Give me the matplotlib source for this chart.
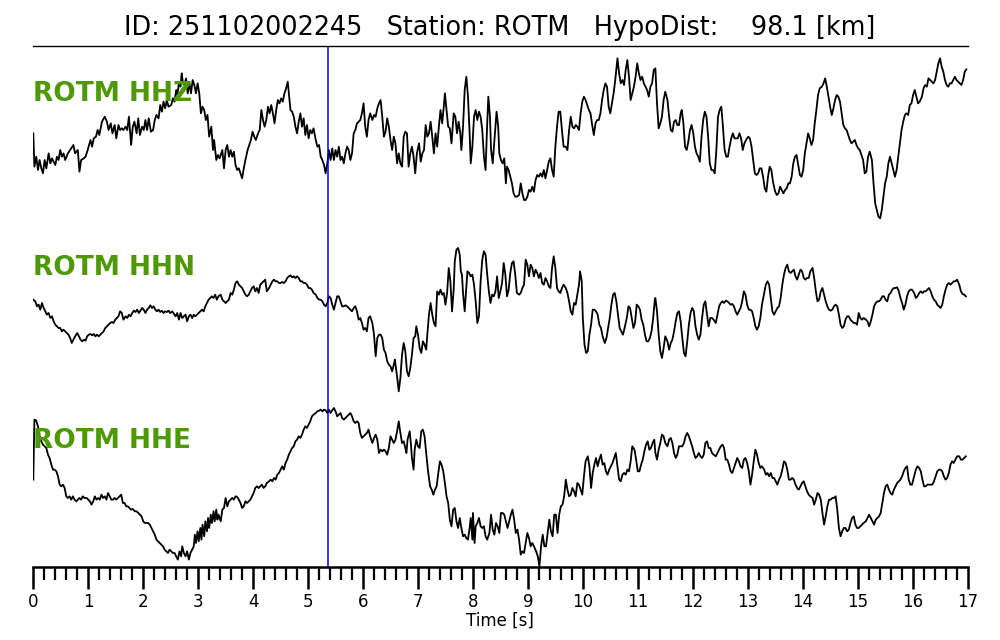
import matplotlib
matplotlib.use("Agg")
import matplotlib.pyplot as plt
from matplotlib.ticker import MultipleLocator
import numpy as np

# ---------------- data ----------------
event_id = "251102002245"
station = "ROTM"
hypo_dist_km = 98.1
channels = ["HHZ", "HHN", "HHE"]
pick_time = 5.36          # P pick [s]
t_max = 17                # record length [s]

# (time [s], amplitude [counts, relative])
hhz = [(0.00,20),(0.02,-80),(0.055,-50),(0.085,-90),(0.115,-60),(0.146,-85),(0.176,-100),(0.206,-60),(0.237,-85),(0.279,-40),(0.31,-70),(0.34,-55),(0.37,-65),(0.40,-75),(0.43,-50),(0.46,-60),(0.49,-30),(0.52,-50),(0.55,-40),(0.58,-60),(0.63,-40),(0.67,-30),(0.73,-15),(0.76,-40),(0.81,-30),(0.84,-95),(0.87,-60),(0.92,-55),(0.95,-50),(0.99,-30),(1.04,0),(1.07,-20),(1.10,5),(1.14,10),(1.17,30),(1.20,15),(1.25,55),(1.30,70),(1.34,55),(1.37,30),(1.41,50),(1.44,20),(1.48,45),(1.51,5),(1.55,45),(1.58,30),(1.61,35),(1.64,30),(1.68,40),(1.71,30),(1.74,70),(1.78,-15),(1.81,40),(1.84,55),(1.88,20),(1.91,65),(1.94,15),(1.98,40),(2.01,30),(2.04,60),(2.07,30),(2.10,65),(2.14,25),(2.18,30),(2.21,60),(2.24,75),(2.28,65),(2.31,105),(2.34,85),(2.37,115),(2.40,95),(2.43,120),(2.46,100),(2.51,105),(2.54,125),(2.57,115),(2.60,150),(2.62,135),(2.65,170),(2.68,160),(2.70,200),(2.72,175),(2.75,165),(2.78,185),(2.81,140),(2.84,170),(2.87,140),(2.90,180),(2.93,165),(2.96,140),(2.99,170),(3.02,140),(3.05,80),(3.08,100),(3.11,90),(3.14,60),(3.17,75),(3.20,10),(3.24,40),(3.27,-30),(3.29,0),(3.33,-60),(3.36,-45),(3.39,-55),(3.44,-30),(3.47,-85),(3.50,-30),(3.53,-15),(3.56,-50),(3.59,-30),(3.62,-50),(3.65,-35),(3.68,-75),(3.71,-90),(3.74,-85),(3.77,-100),(3.80,-115),(3.83,-85),(3.86,-60),(3.90,-30),(3.93,-15),(3.96,0),(3.99,25),(4.02,10),(4.05,0),(4.09,20),(4.12,30),(4.15,90),(4.18,60),(4.21,40),(4.24,60),(4.27,100),(4.30,80),(4.33,105),(4.36,80),(4.39,50),(4.42,90),(4.45,120),(4.48,110),(4.51,125),(4.54,115),(4.57,140),(4.60,155),(4.63,175),(4.65,140),(4.68,90),(4.71,85),(4.74,70),(4.77,40),(4.80,20),(4.83,55),(4.86,80),(4.89,40),(4.92,65),(4.95,15),(4.98,45),(5.01,5),(5.04,30),(5.07,20),(5.10,35),(5.14,0),(5.17,-20),(5.20,-15),(5.23,-50),(5.26,-60),(5.29,-75),(5.32,-100),(5.35,-70),(5.38,-30),(5.41,-60),(5.44,-25),(5.47,-60),(5.50,-30),(5.53,-50),(5.56,-20),(5.59,-60),(5.62,-50),(5.65,-70),(5.68,-40),
       (5.71,-20),(5.74,-30),(5.77,-60),(5.80,-40),(5.83,20),(5.86,30),(5.89,50),(5.92,55),(5.95,60),(5.98,80),(6.01,110),(6.04,40),(6.07,10),(6.10,60),(6.13,80),(6.17,60),(6.20,75),(6.23,70),(6.26,95),(6.29,110),(6.32,120),(6.35,70),(6.38,10),(6.41,25),(6.44,65),(6.47,40),(6.50,0),(6.53,-30),(6.56,10),(6.59,-10),(6.62,-70),(6.65,-40),(6.68,-70),(6.71,-80),(6.74,10),(6.77,25),(6.80,20),(6.83,-80),(6.86,-40),(6.89,-20),(6.92,-50),(6.95,-100),(6.98,-40),(7.02,-10),(7.05,-65),(7.08,-40),(7.11,-30),(7.14,45),(7.17,10),(7.20,20),(7.23,55),(7.26,10),(7.29,-40),(7.32,20),(7.35,-20),(7.38,40),(7.41,90),(7.44,50),(7.47,100),(7.49,140),(7.52,90),(7.55,40),(7.58,35),(7.61,-10),(7.65,80),(7.68,70),(7.71,20),(7.74,55),(7.77,20),(7.79,-30),(7.82,40),(7.85,150),(7.88,190),(7.91,130),(7.94,20),(7.96,-70),(7.99,-20),(8.02,70),(8.05,90),(8.08,60),(8.11,85),(8.14,70),(8.17,30),(8.20,-50),(8.23,-90),(8.26,50),(8.28,130),(8.31,70),(8.33,-30),(8.36,-70),(8.40,20),(8.43,85),(8.46,40),(8.48,-40),(8.51,-60),(8.54,-70),(8.57,-55),(8.60,-130),(8.62,-80),(8.65,-90),(8.68,-110),(8.71,-130),(8.74,-160),(8.77,-170),(8.80,-170),(8.84,-165),(8.87,-130),(8.90,-160),(8.93,-180),(8.96,-180),(8.99,-170),(9.02,-150),(9.05,-155),(9.08,-140),(9.11,-155),(9.14,-120),(9.17,-105),(9.20,-110),(9.23,-100),(9.26,-110),(9.29,-90),(9.32,-115),(9.35,-90),(9.38,-65),(9.41,-55),(9.44,-90),(9.47,-110),(9.50,-20),(9.53,40),(9.56,85),(9.59,85),(9.62,30),(9.65,-20),(9.69,-20),(9.72,-30),(9.75,30),(9.78,70),(9.81,40),(9.84,35),(9.87,45),(9.90,40),(9.93,30),(9.96,80),(9.99,115),(10.02,130),(10.05,120),(10.08,105),(10.11,90),(10.14,80),(10.17,45),(10.20,15),(10.23,50),(10.26,60),(10.29,60),(10.32,80),(10.35,120),(10.38,150),(10.41,170),(10.44,160),(10.47,100),(10.50,80),(10.53,110),(10.56,140),(10.59,180),(10.63,245),(10.66,200),(10.69,170),(10.72,180),(10.75,165),(10.78,210),(10.81,240),(10.84,190),(10.87,120),(10.90,140),(10.93,160),(10.96,190),(10.99,230),(11.02,200),(11.05,180),(11.08,190),(11.11,170),(11.14,160),(11.17,150),(11.20,130),(11.23,160),(11.26,170),(11.29,210),(11.32,215),
       (11.35,110),(11.38,35),(11.41,50),(11.44,70),(11.47,120),(11.50,145),(11.54,120),(11.57,70),(11.60,30),(11.63,25),(11.66,55),(11.69,60),(11.72,45),(11.75,45),(11.78,80),(11.80,90),(11.83,50),(11.86,-20),(11.89,-30),(11.92,-5),(11.95,30),(11.98,45),(12.01,20),(12.04,-20),(12.07,-40),(12.10,-50),(12.13,-65),(12.16,10),(12.19,60),(12.22,85),(12.25,70),(12.28,10),(12.31,-70),(12.34,-90),(12.37,-90),(12.40,-100),(12.43,-30),(12.46,70),(12.49,90),(12.52,100),(12.55,40),(12.58,-30),(12.61,-50),(12.64,-50),(12.67,-20),(12.70,5),(12.73,20),(12.76,5),(12.79,5),(12.82,5),(12.85,20),(12.88,5),(12.91,-30),(12.94,-10),(12.97,0),(13.01,10),(13.04,5),(13.07,-20),(13.10,-60),(13.13,-100),(13.16,-105),(13.19,-100),(13.22,-85),(13.25,-85),(13.28,-110),(13.31,-145),(13.34,-155),(13.37,-110),(13.40,-80),(13.43,-90),(13.46,-125),(13.50,-155),(13.53,-165),(13.56,-160),(13.59,-140),(13.62,-150),(13.65,-160),(13.68,-150),(13.71,-145),(13.74,-130),(13.77,-130),(13.80,-110),(13.83,-70),(13.86,-50),(13.89,-45),(13.92,-75),(13.95,-105),(13.98,-110),(14.01,-90),(14.04,-40),(14.07,-10),(14.10,20),(14.13,5),(14.16,-15),(14.19,0),(14.22,50),(14.25,90),(14.28,135),(14.31,155),(14.35,160),(14.38,170),(14.41,185),(14.44,160),(14.47,130),(14.50,100),(14.53,75),(14.56,95),(14.59,120),(14.62,135),(14.65,130),(14.68,115),(14.71,80),(14.74,45),(14.77,35),(14.80,30),(14.83,15),(14.86,0),(14.89,-10),(14.92,-5),(14.95,0),(14.98,-15),(15.01,-25),(15.04,-30),(15.07,-45),(15.10,-60),(15.13,-100),(15.16,-95),(15.19,-50),(15.22,-35),(15.26,-60),(15.29,-130),(15.32,-190),(15.35,-210),(15.38,-230),(15.41,-235),(15.44,-210),(15.47,-170),(15.50,-130),(15.53,-110),(15.56,-70),(15.59,-50),(15.62,-70),(15.65,-90),(15.68,-110),(15.71,-90),(15.74,-50),(15.77,-10),(15.80,30),(15.83,55),(15.86,75),(15.89,80),(15.92,75),(15.95,105),(15.98,110),(16.01,135),(16.04,150),(16.07,130),(16.10,110),(16.13,115),(16.17,130),(16.20,155),(16.23,165),(16.26,160),(16.29,185),(16.32,180),(16.35,175),(16.38,170),(16.41,180),(16.44,205),(16.47,230),(16.50,245),(16.53,220),(16.56,205),(16.59,180),(16.62,165),(16.65,160),(16.68,170),(16.71,170),(16.74,180),(16.77,190),(16.80,180),(16.83,175),(16.86,170),(16.89,165),(16.92,180),(16.95,205),(16.98,212)]

hhn = [(0.00,41),(0.036,36),(0.067,21),(0.097,26),(0.127,11),(0.158,31),(0.188,16),(0.219,6),(0.249,-4),(0.279,1),(0.31,-14),(0.34,-9),(0.37,-24),(0.40,-34),(0.43,-39),(0.46,-44),(0.49,-44),(0.52,-54),(0.55,-49),(0.58,-54),(0.61,-59),(0.64,-64),(0.67,-74),(0.70,-89),(0.73,-79),(0.76,-69),(0.80,-59),(0.83,-69),(0.86,-79),(0.89,-84),(0.92,-79),(0.95,-82),(0.98,-69),(1.01,-64),(1.04,-62),(1.07,-66),(1.10,-62),(1.13,-69),(1.16,-64),(1.19,-69),(1.22,-64),(1.25,-59),(1.28,-54),(1.31,-44),(1.34,-39),(1.37,-34),(1.40,-29),(1.43,-26),(1.46,-29),(1.49,-19),(1.52,-14),(1.55,-9),(1.58,6),(1.61,1),(1.64,-19),(1.68,-9),(1.71,-14),(1.74,-4),(1.77,-9),(1.80,1),(1.83,8),(1.86,4),(1.89,11),(1.92,1),(1.95,8),(1.98,16),(2.01,11),(2.04,1),(2.07,11),(2.10,16),(2.13,24),(2.16,16),(2.19,21),(2.22,11),(2.25,6),(2.28,11),(2.31,4),(2.34,8),(2.37,1),(2.40,6),(2.43,4),(2.46,8),(2.49,1),(2.53,6),(2.56,-2),(2.59,-9),(2.62,1),(2.65,-19),(2.68,1),(2.71,-14),(2.74,-9),(2.77,-4),(2.80,-24),(2.83,-9),(2.86,-4),(2.89,-14),(2.92,-4),(2.95,-9),(2.98,-4),(3.01,1),(3.04,6),(3.07,11),(3.10,6),(3.13,21),(3.16,31),(3.19,41),(3.22,46),(3.25,51),(3.28,46),(3.31,56),(3.34,41),(3.37,51),(3.41,56),(3.44,41),(3.47,36),(3.50,31),(3.53,36),(3.56,41),(3.59,61),(3.62,56),(3.65,71),(3.68,91),(3.71,96),(3.74,86),(3.77,81),(3.80,76),(3.83,66),(3.86,56),(3.89,51),(3.92,56),(3.95,66),(3.98,76),(4.01,81),(4.04,66),(4.07,76),(4.10,61),(4.13,86),(4.16,91),(4.19,96),(4.22,101),(4.25,66),(4.29,76),(4.32,86),(4.35,96),(4.38,101),(4.41,96),(4.44,96),(4.47,91),(4.50,91),(4.53,94),(4.56,91),(4.59,96),(4.62,106),(4.65,111),(4.68,114),(4.71,108),(4.74,111),(4.77,106),(4.80,111),(4.83,106),(4.86,96),(4.89,96),(4.92,91),(4.95,91),(4.98,86),(5.01,76),(5.04,76),(5.07,71),(5.10,61),(5.14,56),(5.17,46),(5.20,41),(5.23,41),(5.26,36),(5.29,26),(5.32,21),(5.35,31),(5.38,51),(5.41,46),(5.44,26),(5.47,11),(5.50,31),(5.53,51),(5.56,51),(5.59,36),(5.62,21),(5.65,21),(5.68,24),
       (5.71,21),(5.74,16),(5.77,11),(5.80,6),(5.83,16),(5.86,21),(5.89,6),(5.92,-19),(5.95,-14),(5.98,-29),(6.01,-49),(6.04,-44),(6.07,-54),(6.10,-14),(6.13,-9),(6.17,-29),(6.20,-64),(6.23,-129),(6.26,-74),(6.29,-64),(6.32,-64),(6.35,-74),(6.38,-109),(6.41,-119),(6.44,-144),(6.47,-154),(6.50,-159),(6.53,-174),(6.56,-154),(6.58,-139),(6.60,-164),(6.63,-204),(6.65,-234),(6.68,-194),(6.71,-124),(6.74,-89),(6.77,-114),(6.80,-174),(6.83,-189),(6.86,-164),(6.89,-124),(6.92,-74),(6.95,-69),(6.97,-39),(7.00,-64),(7.03,-104),(7.06,-119),(7.09,-84),(7.12,-94),(7.15,-109),(7.17,-64),(7.20,-4),(7.23,31),(7.26,-4),(7.29,-29),(7.32,-39),(7.35,66),(7.38,56),(7.41,71),(7.44,56),(7.47,61),(7.50,26),(7.53,61),(7.56,136),(7.59,96),(7.62,6),(7.65,71),(7.67,156),(7.70,191),(7.73,196),(7.76,176),(7.78,126),(7.80,116),(7.82,61),(7.85,6),(7.88,76),(7.90,126),(7.93,121),(7.96,111),(7.99,116),(8.02,86),(8.05,36),(8.08,-29),(8.11,-9),(8.14,96),(8.17,161),(8.20,186),(8.23,176),(8.26,116),(8.29,66),(8.32,31),(8.35,56),(8.38,51),(8.41,66),(8.44,111),(8.47,46),(8.50,66),(8.53,91),(8.56,151),(8.59,116),(8.62,51),(8.65,71),(8.68,121),(8.71,151),(8.74,156),(8.77,116),(8.80,61),(8.84,56),(8.87,61),(8.90,76),(8.93,86),(8.96,161),(8.99,146),(9.02,111),(9.05,146),(9.08,136),(9.11,111),(9.14,131),(9.17,121),(9.20,106),(9.23,121),(9.26,91),(9.29,86),(9.32,106),(9.35,96),(9.38,81),(9.41,76),(9.44,136),(9.47,171),(9.50,136),(9.53,76),(9.56,66),(9.59,61),(9.62,76),(9.65,86),(9.69,76),(9.72,61),(9.75,36),(9.78,6),(9.81,-4),(9.84,31),(9.87,26),(9.90,56),(9.93,86),(9.95,126),(9.98,96),(10.00,-14),(10.03,-94),(10.06,-119),(10.09,-114),(10.12,-64),(10.15,-34),(10.18,11),(10.21,11),(10.24,6),(10.27,-4),(10.30,-34),(10.33,-44),(10.36,-69),(10.40,-89),(10.43,-74),(10.46,-44),(10.49,-14),(10.52,26),(10.55,56),(10.58,61),(10.61,36),(10.64,-4),(10.67,-44),(10.70,-54),(10.73,-64),(10.76,-44),(10.80,-14),(10.83,21),(10.86,16),(10.89,-14),(10.92,-44),(10.95,-29),(10.98,26),(11.01,21),(11.04,11),(11.07,-19),(11.10,-34),(11.13,-64),(11.16,-84),(11.19,-84),(11.22,-74),(11.25,-54),(11.28,-14),(11.31,41),(11.32,46),
       (11.35,6),(11.38,-64),(11.41,-114),(11.44,-134),(11.47,-104),(11.50,-69),(11.54,-84),(11.57,-109),(11.60,-89),(11.63,-79),(11.66,-54),(11.69,-24),(11.72,1),(11.75,6),(11.78,-24),(11.81,-74),(11.84,-119),(11.87,-129),(11.90,-84),(11.93,-34),(11.96,1),(11.99,16),(12.02,6),(12.05,-39),(12.08,-64),(12.11,-79),(12.14,-64),(12.17,-14),(12.20,26),(12.23,36),(12.26,-4),(12.29,-39),(12.32,-14),(12.35,-14),(12.38,-19),(12.42,-29),(12.45,-4),(12.48,21),(12.51,31),(12.54,36),(12.57,31),(12.60,38),(12.63,36),(12.66,31),(12.69,26),(12.72,28),(12.75,21),(12.78,6),(12.81,-4),(12.84,6),(12.87,16),(12.90,36),(12.93,66),(12.96,56),(12.99,26),(13.02,11),(13.05,11),(13.08,6),(13.11,-14),(13.14,-39),(13.17,-49),(13.20,-39),(13.23,-14),(13.26,26),(13.30,61),(13.33,86),(13.36,96),(13.39,86),(13.42,46),(13.45,6),(13.48,-4),(13.51,6),(13.54,16),(13.57,21),(13.60,46),(13.63,86),(13.66,116),(13.69,136),(13.72,146),(13.75,126),(13.78,121),(13.81,126),(13.84,131),(13.87,111),(13.90,101),(13.93,116),(13.96,131),(13.99,126),(14.02,106),(14.05,101),(14.08,106),(14.11,106),(14.14,126),(14.18,136),(14.21,106),(14.24,66),(14.27,36),(14.30,41),(14.33,66),(14.36,76),(14.39,56),(14.42,36),(14.45,21),(14.48,11),(14.51,8),(14.54,11),(14.57,21),(14.60,26),(14.63,21),(14.66,-4),(14.69,-34),(14.72,-44),(14.75,-39),(14.78,-19),(14.81,-9),(14.84,-9),(14.87,-19),(14.90,-24),(14.93,-29),(14.96,-29),(14.99,-34),(15.02,1),(15.05,-14),(15.08,-19),(15.11,-14),(15.15,-19),(15.18,-24),(15.21,-39),(15.24,-24),(15.27,-4),(15.30,21),(15.33,31),(15.36,36),(15.39,36),(15.42,41),(15.45,51),(15.48,51),(15.51,41),(15.54,36),(15.57,56),(15.60,61),(15.63,71),(15.66,76),(15.69,76),(15.72,78),(15.75,66),(15.78,46),(15.81,31),(15.84,11),(15.87,26),(15.90,51),(15.93,66),(15.96,71),(15.99,71),(16.03,61),(16.06,46),(16.09,51),(16.12,61),(16.15,66),(16.18,61),(16.21,66),(16.24,66),(16.27,71),(16.30,76),(16.33,66),(16.36,51),(16.39,41),(16.42,36),(16.45,26),(16.48,21),(16.51,16),(16.54,26),(16.57,51),(16.60,71),(16.63,86),(16.66,91),(16.69,86),(16.72,91),(16.75,96),(16.78,96),(16.81,101),(16.85,86),(16.88,66),(16.91,58),(16.94,56),(16.97,51)]

hhe = [(0.00,21),(0.02,201),(0.05,199),(0.085,181),(0.115,151),(0.146,136),(0.176,126),(0.206,121),(0.237,116),(0.267,96),(0.297,86),(0.328,66),(0.358,51),(0.388,51),(0.419,46),(0.449,31),(0.48,6),(0.51,1),(0.54,6),(0.57,-4),(0.60,-29),(0.63,-34),(0.66,-29),(0.69,-39),(0.72,-29),(0.75,-39),(0.78,-44),(0.81,-39),(0.84,-34),(0.87,-39),(0.90,-29),(0.93,-34),(0.97,-34),(1.00,-39),(1.03,-44),(1.06,-54),(1.09,-44),(1.12,-29),(1.15,-39),(1.18,-34),(1.21,-39),(1.24,-24),(1.27,-34),(1.30,-29),(1.33,-39),(1.36,-19),(1.39,-29),(1.42,-39),(1.45,-39),(1.48,-34),(1.51,-39),(1.54,-34),(1.57,-29),(1.60,-24),(1.63,-49),(1.66,-49),(1.69,-59),(1.72,-59),(1.75,-64),(1.78,-69),(1.81,-67),(1.85,-74),(1.88,-74),(1.91,-79),(1.94,-84),(1.97,-89),(2.00,-104),(2.03,-109),(2.06,-109),(2.09,-109),(2.12,-114),(2.15,-124),(2.18,-134),(2.21,-144),(2.24,-159),(2.27,-164),(2.30,-169),(2.33,-174),(2.36,-179),(2.39,-189),(2.42,-194),(2.45,-199),(2.48,-189),(2.51,-194),(2.54,-199),(2.57,-199),(2.60,-209),(2.63,-219),(2.66,-194),(2.69,-209),(2.71,-179),(2.74,-199),(2.77,-209),(2.80,-194),(2.83,-219),(2.86,-199),(2.89,-189),(2.92,-179),(2.94,-144),(2.96,-169),(2.99,-134),(3.01,-164),(3.04,-124),(3.06,-159),(3.08,-114),(3.11,-149),(3.13,-104),(3.16,-134),(3.18,-94),(3.20,-124),(3.23,-84),(3.25,-109),(3.28,-74),(3.30,-104),(3.33,-69),(3.35,-99),(3.37,-84),(3.41,-104),(3.44,-69),(3.47,-64),(3.50,-34),(3.53,-59),(3.56,-44),(3.59,-39),(3.62,-34),(3.65,-39),(3.68,-29),(3.71,-31),(3.74,-39),(3.77,-49),(3.80,-64),(3.83,-59),(3.86,-44),(3.89,-49),(3.92,-44),(3.95,-39),(3.98,-29),(4.01,-19),(4.04,-4),(4.07,1),(4.10,-4),(4.13,1),(4.16,6),(4.19,-4),(4.22,1),(4.25,11),(4.29,16),(4.32,21),(4.35,16),(4.38,26),(4.41,21),(4.44,36),(4.47,41),(4.50,51),(4.53,61),(4.56,51),(4.59,71),(4.62,81),(4.65,96),(4.68,106),(4.71,116),(4.74,121),(4.77,136),(4.80,141),(4.83,151),(4.86,146),(4.89,156),(4.92,171),(4.95,181),(4.98,176),(5.01,186),(5.04,196),(5.07,211),(5.10,216),(5.14,221),(5.17,226),(5.20,228),(5.23,231),(5.26,226),(5.29,231),(5.32,229),(5.35,221),(5.38,231),(5.41,221),(5.44,229),(5.47,236),(5.50,226),(5.53,211),(5.56,216),(5.59,221),(5.62,206),(5.65,201),(5.68,206),
       (5.71,211),(5.74,216),(5.77,221),(5.80,211),(5.83,196),(5.86,191),(5.89,196),(5.92,191),(5.95,161),(5.98,146),(6.01,151),(6.04,156),(6.07,161),(6.10,171),(6.13,151),(6.17,131),(6.20,146),(6.23,156),(6.26,141),(6.29,101),(6.32,111),(6.35,106),(6.38,111),(6.41,106),(6.44,96),(6.47,116),(6.50,151),(6.53,141),(6.56,131),(6.59,141),(6.62,166),(6.65,196),(6.68,161),(6.71,131),(6.74,136),(6.77,116),(6.79,101),(6.81,141),(6.85,166),(6.87,131),(6.89,86),(6.92,51),(6.94,111),(6.97,141),(7.00,121),(7.03,116),(7.06,166),(7.09,171),(7.12,151),(7.15,101),(7.18,51),(7.22,1),(7.25,-9),(7.28,-24),(7.31,-9),(7.34,1),(7.37,41),(7.40,76),(7.43,66),(7.46,46),(7.49,11),(7.52,-29),(7.55,-49),(7.58,-99),(7.61,-119),(7.64,-69),(7.67,-64),(7.70,-104),(7.73,-124),(7.76,-94),(7.79,-124),(7.82,-149),(7.85,-144),(7.88,-154),(7.91,-159),(7.94,-124),(7.96,-94),(7.99,-159),(8.00,-79),(8.03,-169),(8.05,-119),(8.08,-109),(8.11,-94),(8.14,-119),(8.17,-124),(8.20,-119),(8.23,-149),(8.26,-159),(8.30,-139),(8.33,-84),(8.36,-129),(8.39,-144),(8.42,-109),(8.45,-119),(8.48,-139),(8.51,-79),(8.54,-79),(8.57,-84),(8.60,-104),(8.63,-124),(8.66,-104),(8.69,-84),(8.72,-69),(8.75,-99),(8.78,-139),(8.81,-129),(8.84,-159),(8.87,-204),(8.90,-194),(8.93,-199),(8.96,-169),(8.99,-139),(9.02,-154),(9.05,-179),(9.08,-169),(9.11,-179),(9.15,-194),(9.18,-209),(9.21,-239),(9.24,-179),(9.27,-144),(9.30,-179),(9.33,-179),(9.36,-139),(9.39,-99),(9.42,-134),(9.45,-149),(9.48,-84),(9.51,-84),(9.54,-139),(9.57,-84),(9.60,-59),(9.63,-54),(9.66,-29),(9.69,21),(9.72,-9),(9.75,-29),(9.78,-24),(9.81,-4),(9.84,-14),(9.87,-29),(9.90,11),(9.93,6),(9.96,-9),(9.99,-24),(10.02,31),(10.05,76),(10.09,91),(10.12,61),(10.15,-4),(10.18,41),(10.21,66),(10.24,86),(10.27,61),(10.30,81),(10.33,96),(10.36,66),(10.39,71),(10.42,46),(10.45,36),(10.48,51),(10.51,61),(10.54,71),(10.57,86),(10.60,101),(10.63,61),(10.66,21),(10.69,16),(10.72,36),(10.75,41),(10.78,36),(10.81,51),(10.84,46),(10.87,76),(10.90,121),(10.94,111),(10.97,81),(11.00,46),(11.03,46),(11.06,66),(11.09,81),(11.12,106),(11.15,126),(11.18,136),(11.21,111),(11.24,116),(11.27,131),(11.30,141),(11.32,101),
       (11.35,81),(11.38,111),(11.41,131),(11.44,156),(11.47,151),(11.50,131),(11.54,121),(11.57,141),(11.60,146),(11.63,131),(11.66,101),(11.69,86),(11.72,96),(11.75,121),(11.78,121),(11.81,121),(11.84,131),(11.87,151),(11.90,161),(11.93,151),(11.96,136),(11.99,121),(12.02,101),(12.05,86),(12.08,91),(12.11,101),(12.14,91),(12.17,86),(12.20,96),(12.23,131),(12.26,136),(12.29,116),(12.32,116),(12.35,101),(12.38,96),(12.42,91),(12.45,101),(12.48,111),(12.51,121),(12.54,126),(12.57,116),(12.60,81),(12.63,81),(12.66,66),(12.69,46),(12.72,41),(12.75,56),(12.78,71),(12.81,86),(12.84,76),(12.87,61),(12.90,56),(12.93,81),(12.96,86),(12.99,71),(13.02,46),(13.05,6),(13.08,36),(13.11,76),(13.14,111),(13.17,96),(13.20,71),(13.23,56),(13.26,61),(13.30,51),(13.33,36),(13.36,41),(13.39,31),(13.42,41),(13.45,26),(13.48,26),(13.51,16),(13.54,6),(13.57,21),(13.60,31),(13.63,51),(13.66,76),(13.69,71),(13.72,51),(13.75,21),(13.78,21),(13.81,26),(13.84,21),(13.87,6),(13.90,-4),(13.93,-9),(13.96,1),(13.99,11),(14.02,16),(14.05,1),(14.08,-14),(14.11,-24),(14.14,-29),(14.18,-34),(14.21,-54),(14.24,-39),(14.27,-19),(14.30,-24),(14.33,-39),(14.36,-79),(14.39,-114),(14.42,-89),(14.45,-59),(14.48,-39),(14.51,-39),(14.54,-34),(14.57,-34),(14.60,-29),(14.63,-69),(14.66,-124),(14.69,-149),(14.72,-134),(14.75,-124),(14.78,-124),(14.81,-134),(14.84,-129),(14.87,-109),(14.90,-94),(14.93,-89),(14.96,-114),(14.99,-124),(15.02,-124),(15.05,-119),(15.08,-114),(15.11,-109),(15.15,-104),(15.18,-94),(15.21,-84),(15.24,-94),(15.27,-104),(15.30,-114),(15.33,-99),(15.36,-94),(15.39,-89),(15.42,-79),(15.45,-49),(15.48,-19),(15.51,1),(15.54,6),(15.57,-9),(15.60,-19),(15.63,-24),(15.66,-9),(15.69,1),(15.72,11),(15.75,16),(15.78,21),(15.81,31),(15.84,46),(15.87,56),(15.90,61),(15.93,21),(15.96,6),(15.99,6),(16.03,31),(16.06,51),(16.09,61),(16.12,56),(16.15,46),(16.18,21),(16.21,1),(16.24,1),(16.27,6),(16.30,6),(16.33,6),(16.36,6),(16.39,16),(16.42,31),(16.45,46),(16.48,51),(16.51,51),(16.54,46),(16.57,31),(16.60,21),(16.63,26),(16.66,41),(16.69,66),(16.72,76),(16.75,71),(16.78,81),(16.81,91),(16.85,91),(16.88,81),(16.91,81),(16.94,86),(16.97,91)]

traces = [hhz, hhn, hhe]

# ---------------- figure ----------------
fig = plt.figure(figsize=(10, 6.4), dpi=100)
ax = fig.add_axes([0.0333, 0.1141, 0.9342, 0.8140])

spacing = 520
label_color = "#4e9a06"
for k, (ch, tr) in enumerate(zip(channels, traces)):
    arr = np.array(tr, dtype=float)
    off = -k * spacing
    ax.plot(arr[:, 0], arr[:, 1] + off, color="black", lw=1.3)
    ax.text(0.0, off + 116, f"{station} {ch}", color=label_color,
            fontsize=19, fontweight="bold", ha="left", va="baseline")

ax.axvline(pick_time, color="blue", lw=1.1)

ax.set_xlim(0, t_max)
ax.set_ylim(-1281, 282)

for s in ("left", "right"):
    ax.spines[s].set_visible(False)
ax.spines["top"].set_linewidth(1.0)
ax.spines["bottom"].set_linewidth(1.8)

ax.set_yticks([])
ax.xaxis.set_major_locator(MultipleLocator(1))
ax.xaxis.set_minor_locator(MultipleLocator(0.2))
ax.tick_params(axis="x", which="major", direction="out", length=16, width=1.8,
               labelsize=12, pad=3)
ax.tick_params(axis="x", which="minor", direction="out", length=9, width=1.6)
ax.set_xlabel("Time [s]", fontsize=12, labelpad=0)

title = f"ID: {event_id}   Station: {station}   HypoDist:    {hypo_dist_km:.1f} [km]"
fig.text(0.5, 1 - 35 / 640, title, fontsize=18.4, ha="center", va="baseline")

fig.savefig("out.png", dpi=100)
